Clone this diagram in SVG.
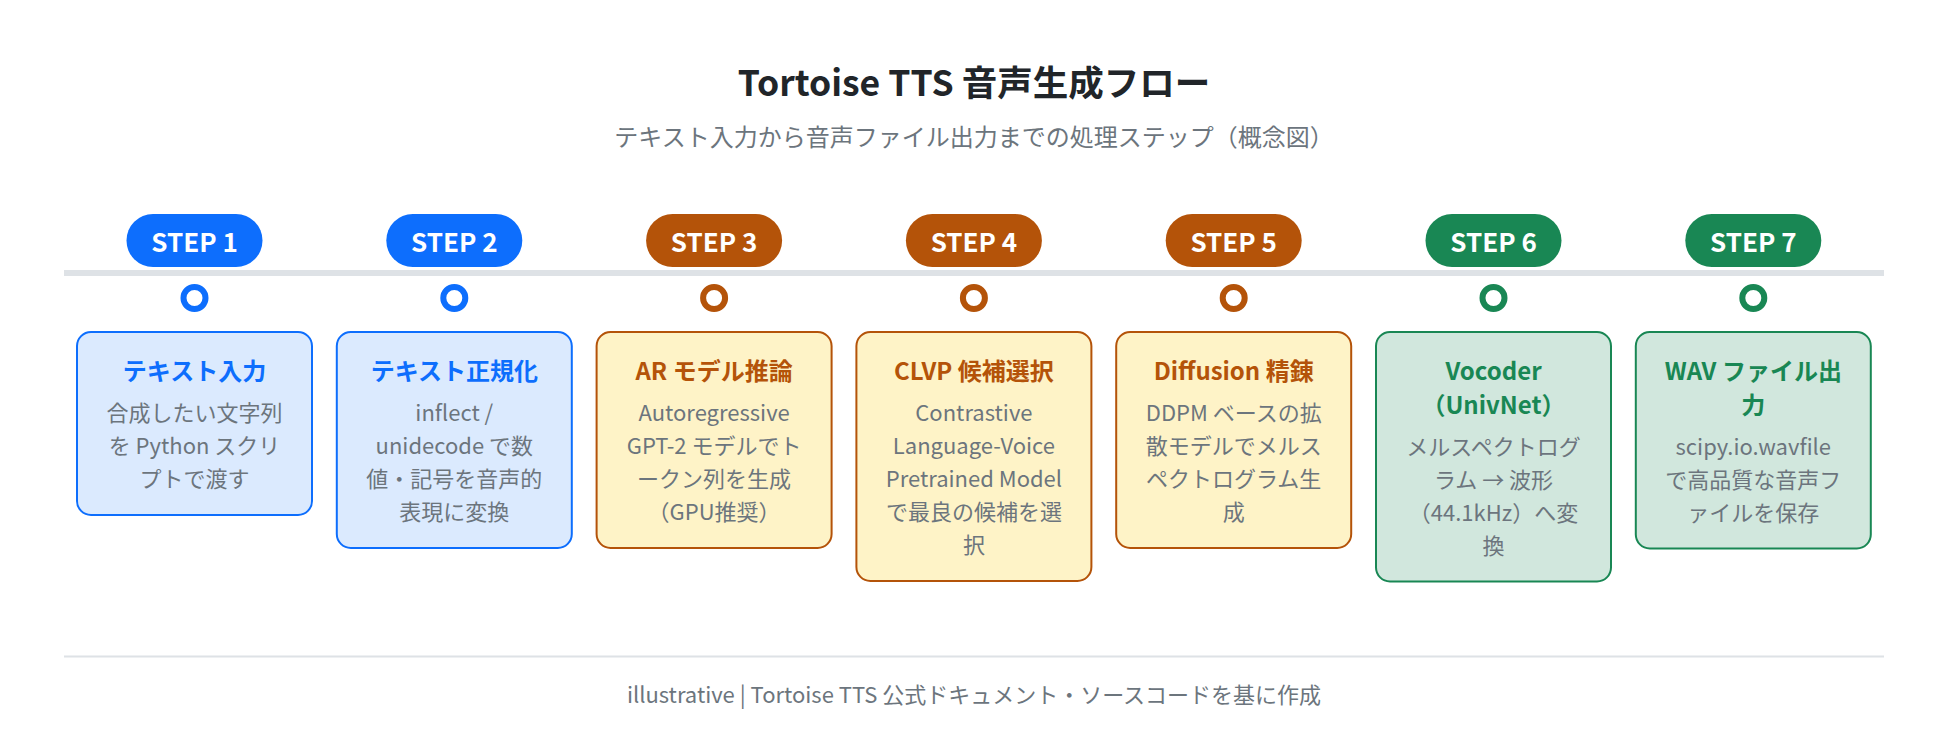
<svg xmlns="http://www.w3.org/2000/svg" width="1948" height="750" viewBox="0 0 1948 750">
<style>
text{font-family:"Noto Sans CJK JP","Noto Sans",sans-serif;text-anchor:middle}
.h1{font-size:35.5px;font-weight:700;fill:#212529}
.sub{font-size:24px;fill:#6c757d}
.pt{font-size:26px;font-weight:700;fill:#ffffff}
.tt{font-size:24px;font-weight:700}
.bd{font-size:22px;fill:#6c757d}
.ft{font-size:22px;fill:#6c757d}
.blue .pill{fill:#0d6efd}.blue .dot{stroke:#0d6efd}.blue .box{fill:#dbeafe;stroke:#0d6efd}.blue .tt{fill:#0d6efd}
.org .pill{fill:#b45309}.org .dot{stroke:#b45309}.org .box{fill:#fef3c7;stroke:#b45309}.org .tt{fill:#b45309}
.grn .pill{fill:#198754}.grn .dot{stroke:#198754}.grn .box{fill:#d1e7dd;stroke:#198754}.grn .tt{fill:#198754}
.dot{fill:#ffffff;stroke-width:6}
.box{stroke-width:2}
</style>
<rect width="1948" height="750" fill="#ffffff"/>
<text class="h1" x="974" y="96">Tortoise TTS 音声生成フロー</text>
<text class="sub" x="974" y="146">テキスト入力から音声ファイル出力までの処理ステップ（概念図）</text>
<g id="connectors">
<rect x="64" y="270" width="1820" height="6" fill="#dee2e6"/>
</g>
<g id="step1" class="blue">
<rect class="pill" x="126.5" y="214" width="136" height="53" rx="26.5"/>
<text class="pt" x="194.5" y="252">STEP 1</text>
<circle class="dot" cx="194.5" cy="298" r="11"/>
<rect class="box" x="77" y="332" width="235" height="183" rx="14"/>
<text class="tt" x="194.5" y="380">テキスト入力</text>
<text class="bd" x="194.5" y="421">合成したい文字列</text>
<text class="bd" x="194.5" y="454">を Python スクリ</text>
<text class="bd" x="194.5" y="487">プトで渡す</text>
</g>
<g id="step2" class="blue">
<rect class="pill" x="386.3" y="214" width="136" height="53" rx="26.5"/>
<text class="pt" x="454.3" y="252">STEP 2</text>
<circle class="dot" cx="454.3" cy="298" r="11"/>
<rect class="box" x="336.8" y="332" width="235" height="216" rx="14"/>
<text class="tt" x="454.3" y="380">テキスト正規化</text>
<text class="bd" x="454.3" y="421">inflect /</text>
<text class="bd" x="454.3" y="454">unidecode で数</text>
<text class="bd" x="454.3" y="487">値・記号を音声的</text>
<text class="bd" x="454.3" y="520">表現に変換</text>
</g>
<g id="step3" class="org">
<rect class="pill" x="646.1" y="214" width="136" height="53" rx="26.5"/>
<text class="pt" x="714.1" y="252">STEP 3</text>
<circle class="dot" cx="714.1" cy="298" r="11"/>
<rect class="box" x="596.6" y="332" width="235" height="216" rx="14"/>
<text class="tt" x="714.1" y="380">AR モデル推論</text>
<text class="bd" x="714.1" y="421">Autoregressive</text>
<text class="bd" x="714.1" y="454">GPT-2 モデルでト</text>
<text class="bd" x="714.1" y="487">ークン列を生成</text>
<text class="bd" x="714.1" y="520">（GPU推奨）</text>
</g>
<g id="step4" class="org">
<rect class="pill" x="905.9" y="214" width="136" height="53" rx="26.5"/>
<text class="pt" x="973.9" y="252">STEP 4</text>
<circle class="dot" cx="973.9" cy="298" r="11"/>
<rect class="box" x="856.4" y="332" width="235" height="249" rx="14"/>
<text class="tt" x="973.9" y="380">CLVP 候補選択</text>
<text class="bd" x="973.9" y="421">Contrastive</text>
<text class="bd" x="973.9" y="454">Language-Voice</text>
<text class="bd" x="973.9" y="487">Pretrained Model</text>
<text class="bd" x="973.9" y="520">で最良の候補を選</text>
<text class="bd" x="973.9" y="553">択</text>
</g>
<g id="step5" class="org">
<rect class="pill" x="1165.7" y="214" width="136" height="53" rx="26.5"/>
<text class="pt" x="1233.7" y="252">STEP 5</text>
<circle class="dot" cx="1233.7" cy="298" r="11"/>
<rect class="box" x="1116.2" y="332" width="235" height="216" rx="14"/>
<text class="tt" x="1233.7" y="380">Diffusion 精錬</text>
<text class="bd" x="1233.7" y="421">DDPM ベースの拡</text>
<text class="bd" x="1233.7" y="454">散モデルでメルス</text>
<text class="bd" x="1233.7" y="487">ペクトログラム生</text>
<text class="bd" x="1233.7" y="520">成</text>
</g>
<g id="step6" class="grn">
<rect class="pill" x="1425.5" y="214" width="136" height="53" rx="26.5"/>
<text class="pt" x="1493.5" y="252">STEP 6</text>
<circle class="dot" cx="1493.5" cy="298" r="11"/>
<rect class="box" x="1376" y="332" width="235" height="249.5" rx="14"/>
<text class="tt" x="1493.5" y="380">Vocoder</text>
<text class="tt" x="1493.5" y="413.5">（UnivNet）</text>
<text class="bd" x="1493.5" y="454.5">メルスペクトログ</text>
<text class="bd" x="1493.5" y="487.5">ラム → 波形</text>
<text class="bd" x="1493.5" y="520.5">（44.1kHz）へ変</text>
<text class="bd" x="1493.5" y="553.5">換</text>
</g>
<g id="step7" class="grn">
<rect class="pill" x="1685.3" y="214" width="136" height="53" rx="26.5"/>
<text class="pt" x="1753.3" y="252">STEP 7</text>
<circle class="dot" cx="1753.3" cy="298" r="11"/>
<rect class="box" x="1635.8" y="332" width="235" height="216.5" rx="14"/>
<text class="tt" x="1753.3" y="380">WAV ファイル出</text>
<text class="tt" x="1753.3" y="413.5">力</text>
<text class="bd" x="1753.3" y="454.5">scipy.io.wavfile</text>
<text class="bd" x="1753.3" y="487.5">で高品質な音声フ</text>
<text class="bd" x="1753.3" y="520.5">ァイルを保存</text>
</g>
<line x1="64" y1="656.5" x2="1884" y2="656.5" stroke="#dee2e6" stroke-width="2"/>
<text class="ft" x="974" y="703">illustrative | Tortoise TTS 公式ドキュメント・ソースコードを基に作成</text>
</svg>
